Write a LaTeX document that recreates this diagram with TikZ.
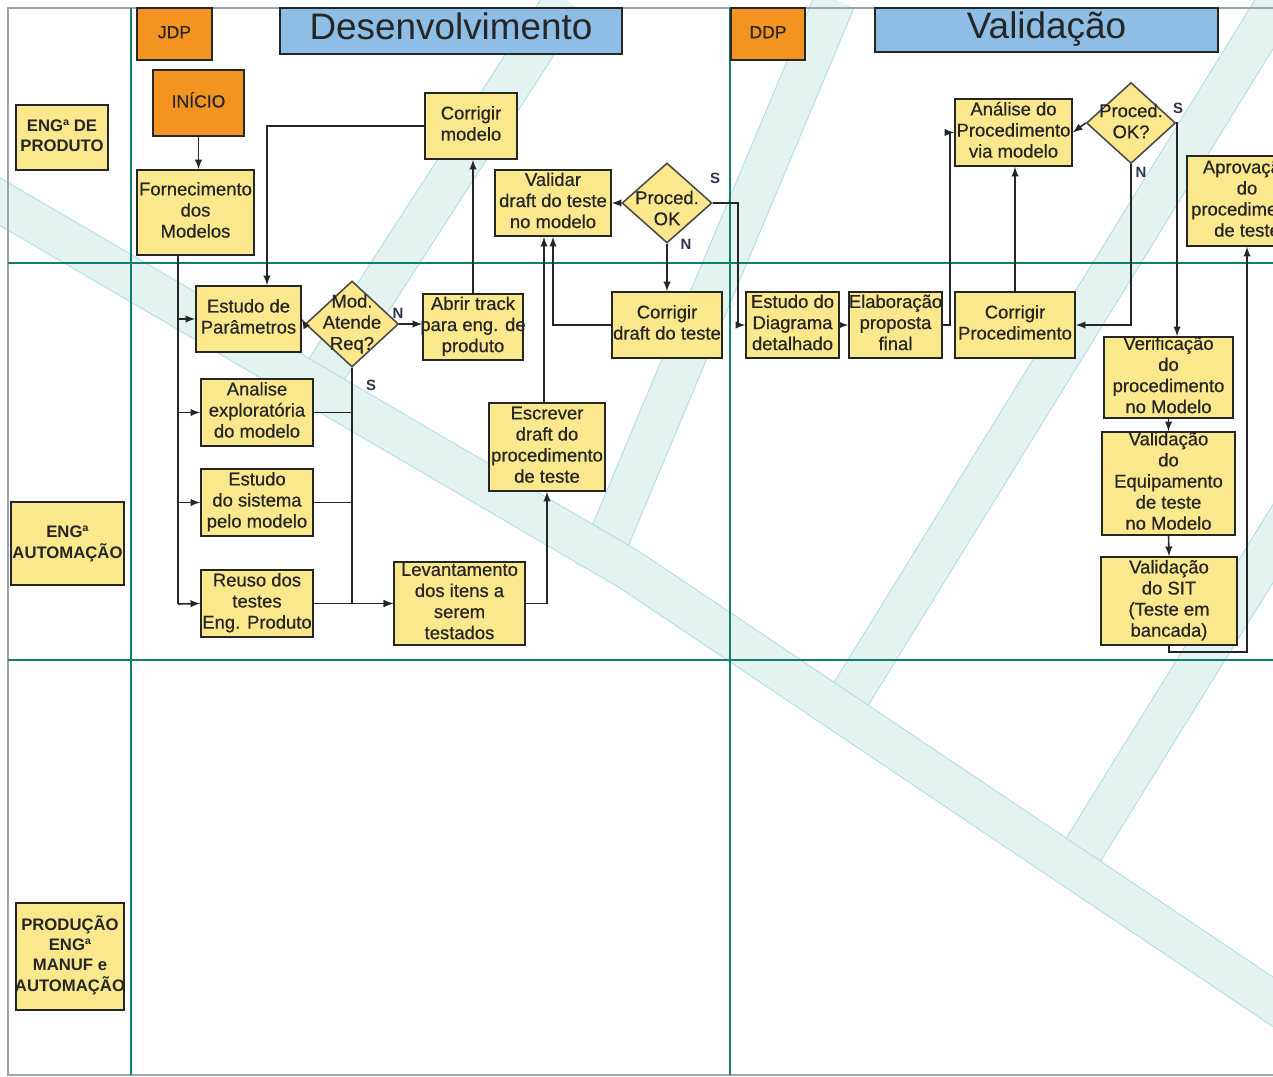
\documentclass[tikz,border=0pt]{standalone}
\usepackage{fontspec}
\setmainfont{Liberation Sans}
\newfontfamily\boxfont{Liberation Sans}[FakeBold=0.6]
\usetikzlibrary{shapes.geometric}

\definecolor{stepYellow}{HTML}{FBE88C}
\definecolor{startOrange}{HTML}{F39420}
\definecolor{titleBlue}{HTML}{8EBEE6}
\definecolor{laneTeal}{HTML}{11806E}
\definecolor{bandFill}{HTML}{E3F3EF}
\definecolor{bandEdge}{HTML}{B2DDEA}
\definecolor{frameGray}{HTML}{9AA4AE}
\definecolor{answerBlue}{HTML}{2C3550}

\tikzset{
	box/.style={draw=black!85, line width=0.9pt, inner sep=0pt, text=black!85},
	stepbox/.style={box, fill=stepYellow, font=\boxfont\fontsize{10.5}{12}\selectfont},
	lanebox/.style={box, fill=stepYellow, font=\fontsize{9.5}{11.5}\selectfont\bfseries},
	startbox/.style={box, fill=startOrange, font=\boxfont\fontsize{10}{12}\selectfont},
	titlebox/.style={box, fill=titleBlue, font=\fontsize{21}{24}\selectfont},
	decision/.style={diamond, draw=black!70, line width=0.9pt, fill=stepYellow, inner sep=0pt, text=black!85, font=\boxfont\fontsize{10.5}{12}\selectfont},
	answer/.style={text=answerBlue, font=\fontsize{8.5}{10}\selectfont\bfseries, inner sep=0pt},
	flow/.style={draw=black!85, line width=0.9pt, -latex},
	lane/.style={draw=laneTeal, line width=0.7pt},
	band/.style={draw=bandEdge, line width=0.6pt, double=bandFill, double distance=0.8cm}
}

\begin{document}
\begin{tikzpicture}[x=0.02cm, y=-0.02cm]
\useasboundingbox (0,0) rectangle (1273,1077);
\clip (0,0) rectangle (1273,1077);
\fill[white] (0,0) rectangle (1273,1077);

\newcommand\drawBox[7]{\node[#1, minimum width=#5*0.02cm, minimum height=#6*0.02cm] (#2) at (#3,#4) {\makebox[0pt]{\smash{\raisebox{-0.25em}{\begin{tabular}{@{}c@{}}#7\end{tabular}}}}};}
\newcommand\drawDecision[7]{\node[decision, minimum width=#4*0.02cm, minimum height=#5*0.02cm] (#1) at (#2,#3) {\makebox[0pt]{\smash{\raisebox{#6}{\begin{tabular}{@{}c@{}}#7\end{tabular}}}}};}

	\begin{scope}
	\foreach \xa/\ya/\xb/\yb in {310/395/565/0, 595/572/835/0, 835/720/1279/0, 1080/855/1300/500}
	{
		\draw[band] (\xa,\ya) -- (\xb,\yb);
	}
	\draw[band] (-20,190) -- (630,570) -- (1300,1020);
	\end{scope}

	\draw[draw=frameGray, line width=1.2pt] (1273,8) -- (8,8) -- (8,1075) -- (1273,1075);
	\draw[lane] (131,8) -- (131,1075);
	\draw[lane] (730,8) -- (730,1075);
	\draw[lane, line width=1pt] (8,263) -- (1273,263);
	\draw[lane, line width=1pt] (8,660) -- (1273,660);

\drawBox{lanebox}{engProd}{62}{137.5}{92}{65}{ENGª DE\\PRODUTO}
\drawBox{lanebox}{engAut}{67.5}{543.5}{113}{83}{ENGª\\AUTOMAÇÃO}
\drawBox{lanebox}{engMan}{70}{956.5}{108}{107}{PRODUÇÃO\\ENGª\\MANUF e\\AUTOMAÇÃO}

\drawBox{startbox}{jdp}{174.5}{34}{75}{52}{JDP}
\drawBox{startbox}{ddp}{768}{34}{74}{52}{DDP}
\drawBox{titlebox}{desenv}{451}{31}{342}{46}{Desenvolvimento}
\drawBox{titlebox}{valid}{1046.5}{30}{343}{44}{Validação}
\drawBox{startbox}{inicio}{198.5}{103}{91}{66}{INÍCIO}

\drawBox{stepbox}{forn}{195.5}{212.5}{117}{85}{Fornecimento\\dos\\Modelos}
\drawBox{stepbox}{corrMod}{471}{126}{92}{66}{Corrigir\\modelo}
\drawBox{stepbox}{validar}{553}{203}{116}{66}{Validar\\draft do teste\\no modelo}
\drawDecision{procOkA}{667}{203}{90}{80}{-7pt}{Proced.\\OK}
\drawBox{stepbox}{estPar}{248.5}{319}{105}{66}{Estudo de\\Parâmetros}
\drawDecision{modReq}{352}{324}{93}{86}{-3pt}{Mod.\\Atende\\Req?}
\drawBox{stepbox}{abrir}{473}{327}{100}{66}{Abrir track\\para eng. de\\produto}
\drawBox{stepbox}{corrDraft}{667}{325}{110}{66}{Corrigir\\draft do teste}
\drawBox{stepbox}{analise}{257}{412.5}{112}{67}{Analise\\exploratória\\do modelo}
\drawBox{stepbox}{estSis}{257}{502.5}{112}{67}{Estudo\\do sistema\\pelo modelo}
\drawBox{stepbox}{reuso}{257}{603.5}{112}{67}{Reuso dos\\testes\\Eng. Produto}
\drawBox{stepbox}{levant}{459.5}{603.5}{131}{83}{Levantamento\\dos itens a\\serem\\testados}
\drawBox{stepbox}{escrever}{547}{447}{116}{88}{Escrever\\draft do\\procedimento\\de teste}

\drawBox{stepbox}{estDiag}{792.5}{325}{93}{66}{Estudo do\\Diagrama\\detalhado}
\drawBox{stepbox}{elab}{895.5}{325}{93}{66}{Elaboração\\proposta\\final}
\drawBox{stepbox}{corrProc}{1015}{325}{120}{66}{Corrigir\\Procedimento}
\drawBox{stepbox}{anProc}{1013.5}{132.5}{117}{67}{Análise do\\Procedimento\\via modelo}
\drawDecision{procOkB}{1131}{123}{89}{81}{-3pt}{Proced.\\OK?}
\drawBox{stepbox}{aprov}{1247}{201}{120}{90}{Aprovação\\do\\procedimento\\de teste}
\drawBox{stepbox}{verif}{1168.5}{377.5}{129}{81}{Verificação\\do\\procedimento\\no Modelo}
\drawBox{stepbox}{valEquip}{1168.5}{483.5}{133}{103}{Validação\\do\\Equipamento\\de teste\\no Modelo}
\drawBox{stepbox}{valSit}{1169}{601}{136}{88}{Validação\\do SIT\\(Teste em\\bancada)}

\node[answer] (naoA) at (398,313) {N};
\node[answer] (simA) at (371,385) {S};
\node[answer] (simB) at (715,178) {S};
\node[answer] (naoB) at (686,244) {N};
\node[answer] (simC) at (1178,108) {S};
\node[answer] (naoC) at (1141,172) {N};

\coordinate (spine) at (178,604);
\draw[flow] (inicio.south) -- (inicio.south |- forn.north);
\draw[draw=black!85, line width=0.9pt] (forn.south -| spine) -- (spine);
\draw[flow] (spine |- estPar.west) -- (estPar.west);
\draw[flow] (spine |- analise.west) -- (analise.west);
\draw[flow] (spine |- estSis.west) -- (estSis.west);
\draw[flow] (spine) -- (reuso.west);
\draw[flow] (corrMod.west) -| ([xshift=0.37cm]estPar.north);
\draw[flow] (modReq.west) -- (estPar.east);
\draw[flow] (modReq.east) -- (abrir.west |- modReq.east);
\draw[flow] (abrir.north) -- (abrir.north |- corrMod.south);
\draw[draw=black!85, line width=0.9pt] (analise.east) -- (analise.east -| modReq.south);
\draw[draw=black!85, line width=0.9pt] (estSis.east) -- (estSis.east -| modReq.south);
\draw[flow] (modReq.south) |- (levant.west);
\draw[flow] (reuso.east) -- (levant.west);
\draw[flow] (levant.east) -| (escrever.south);
\draw[flow] ([xshift=-0.06cm]escrever.north) -- ([xshift=-0.18cm]validar.south);
\draw[flow] (corrDraft.west) -| (validar.south);
\draw[flow] (procOkA.west) -- (validar.east);
\draw[flow] (procOkA.south) -- (corrDraft.north);
\draw[flow] (procOkA.east) -- ++(25,0) |- (estDiag.west);
\draw[flow] (estDiag.east) -- (elab.west);
\draw[flow] (elab.east) -- ++(7,0) |- (anProc.west);
\draw[flow] (corrProc.north) -- (corrProc.north |- anProc.south);
\draw[flow] (procOkB.west) -- (anProc.east);
\draw[flow] (procOkB.south) |- (corrProc.east);
\draw[flow] (procOkB.east) -| ([xshift=0.17cm]verif.north);
\draw[flow] (verif.south) -- (valEquip.north);
\draw[flow] (valEquip.south) -- (valSit.north);
\draw[flow] (valSit.south) -- ++(0,6) -| (aprov.south);
\end{tikzpicture}
\end{document}
